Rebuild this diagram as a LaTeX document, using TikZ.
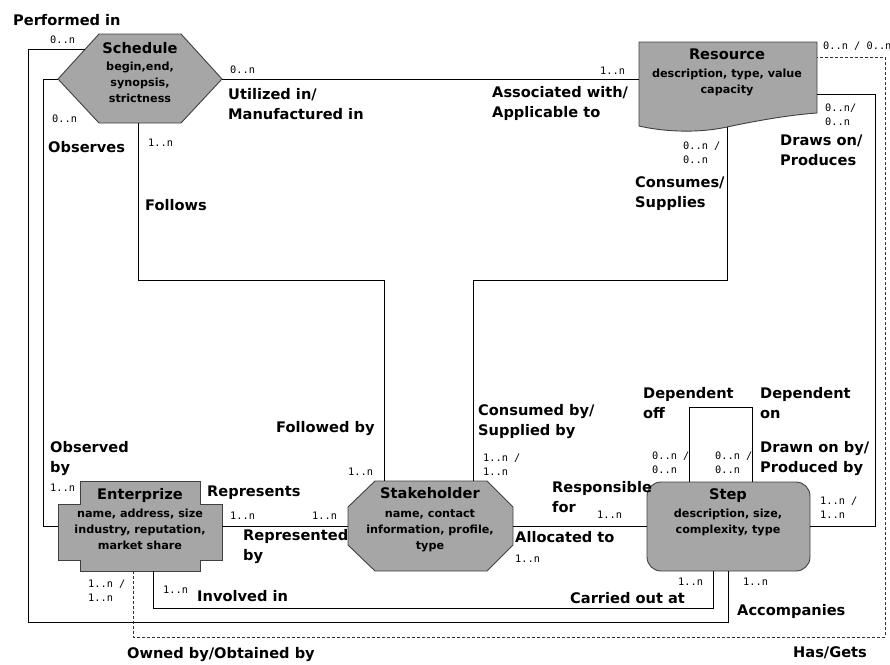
\documentclass[tikz,border=0pt]{standalone}
\usepackage{fontspec}
\setmainfont{DejaVu Sans}
\setmonofont{DejaVu Sans Mono}
\newcommand\leftlines[1]{\begin{tabular}[t]{@{}l@{}}#1\end{tabular}}
\newcommand\midlines[1]{\begin{tabular}[t]{@{}c@{}}#1\end{tabular}}
\begin{document}
\begin{tikzpicture}[x=1pt,y=-1pt,
  entity/.style={fill=gray!70, draw=black!75, line width=0.9pt},
  link/.style={draw=black, line width=0.8pt},
  optlink/.style={draw=black!80, line width=0.8pt, dash pattern=on 3pt off 2pt},
  role/.style={anchor=base west, inner sep=0pt, font=\bfseries\fontsize{14.6}{20}\selectfont},
  card/.style={anchor=base west, inner sep=0pt, font=\ttfamily\fontsize{10.3}{14}\selectfont},
  etitle/.style={anchor=base, inner sep=0pt, font=\bfseries\fontsize{14.6}{18}\selectfont},
  eattr/.style={anchor=base, inner sep=0pt, font=\bfseries\fontsize{11.2}{16}\selectfont},
]
\useasboundingbox (0,0) rectangle (890,664);

% ---------- entities ----------
% Schedule (hexagon)
\draw[entity] (58,79) -- (99,34) -- (181,34) -- (222,79) -- (181,123) -- (99,123) -- cycle;
% Resource (document shape with wavy bottom)
\draw[entity] (639,42) -- (817,42) -- (817,113)
  .. controls (790,115) and (760,120) .. (727,127)
  .. controls (695,134) and (660,131) .. (639,126) -- cycle;
% Enterprize (cross)
\draw[entity] (80,481) -- (200,481) -- (200,504) -- (222,504) -- (222,560) -- (200,560)
  -- (200,571) -- (80,571) -- (80,560) -- (58,560) -- (58,504) -- (80,504) -- cycle;
% Stakeholder (octagon)
\draw[entity] (375,481) -- (487,481) -- (513,507) -- (513,545) -- (487,571) -- (375,571)
  -- (348,545) -- (348,507) -- cycle;
% Step (rounded box)
\draw[entity, rounded corners=14pt] (647,482) rectangle (810,571);

% ---------- attachment points ----------
\coordinate (sPerf) at (85,49);
\coordinate (sObs) at (58,79);
\coordinate (sUtil) at (222,79);
\coordinate (sFol) at (138,123);
\coordinate (rAssoc) at (639,79);
\coordinate (rDraw) at (817,94);
\coordinate (rCons) at (727,127);
\coordinate (rHas) at (817,57);
\coordinate (eObs) at (58,526);
\coordinate (eRep) at (222,526);
\coordinate (eOwn) at (133,571);
\coordinate (eInv) at (153,571);
\coordinate (kRep) at (348,526);
\coordinate (kAlloc) at (513,526);
\coordinate (kFol) at (384,481);
\coordinate (kCons) at (473,481);
\coordinate (pResp) at (647,526);
\coordinate (pDraw) at (810,526);
\coordinate (pDepL) at (689,482);
\coordinate (pDepR) at (752,482);
\coordinate (pCarr) at (713,571);
\coordinate (pAcc) at (728,571);

% ---------- relationships ----------
\draw[link] (sPerf) -| (28,622) -| (pAcc);
\draw[link] (sObs) -| (43,526) -- (eObs);
\draw[link] (sUtil) -- (rAssoc);
\draw[link] (sFol) |- (384,280) -- (kFol);
\draw[link] (rCons) |- (473,280) -- (kCons);
\draw[link] (eRep) -- (kRep);
\draw[link] (kAlloc) -- (pResp);
\draw[link] (rDraw) -| (875,526) -- (pDraw);
\draw[link] (pDepL) |- (752,407) -- (pDepR);
\draw[link] (eInv) |- (713,608) -- (pCarr);
\draw[optlink] (eOwn) |- (885,637) |- (rHas);

% ---------- entity texts ----------
\node[etitle] (schT) at (140,53) {Schedule};
\node[eattr] (schA) at (140,70) {\midlines{begin,end,\\synopsis,\\strictness}};
\node[etitle] (resT) at (727,59) {Resource};
\node[eattr] (resA) at (727,77) {\midlines{description, type, value\\capacity}};
\node[etitle] (entT) at (140,499) {Enterprize};
\node[eattr] (entA) at (140,517) {\midlines{name, address, size\\industry, reputation,\\market share}};
\node[etitle] (stkT) at (430,498) {Stakeholder};
\node[eattr] (stkA) at (430,517) {\midlines{name, contact\\information, profile,\\type}};
\node[etitle] (stpT) at (728,499) {Step};
\node[eattr] (stpA) at (728,517) {\midlines{description, size,\\complexity, type}};

% ---------- role names ----------
\node[role] (lPerf) at (13,25) {Performed in};
\node[role] (lUtil) at (228,99) {\leftlines{Utilized in/\\Manufactured in}};
\node[role] (lObs) at (48,152) {Observes};
\node[role] (lFol) at (145,210) {Follows};
\node[role] (lAssoc) at (492,97) {\leftlines{Associated with/\\Applicable to}};
\node[role] (lDraw) at (780,145) {\leftlines{Draws on/\\Produces}};
\node[role] (lCons) at (635,187) {\leftlines{Consumes/\\Supplies}};
\node[role] (lFolBy) at (276,432) {Followed by};
\node[role] (lObsBy) at (50,452) {\leftlines{Observed\\by}};
\node[role] (lRep) at (207,496) {Represents};
\node[role] (lRepBy) at (243,540) {\leftlines{Represented\\by}};
\node[role] (lInv) at (197,601) {Involved in};
\node[role] (lOwn) at (127,658) {Owned by/Obtained by};
\node[role] (lConsBy) at (478,415) {\leftlines{Consumed by/\\Supplied by}};
\node[role] (lResp) at (552,492) {\leftlines{Responsible\\for}};
\node[role] (lAlloc) at (515,542) {Allocated to};
\node[role] (lDepOff) at (643,398) {\leftlines{Dependent\\off}};
\node[role] (lDepOn) at (760,398) {\leftlines{Dependent\\on}};
\node[role] (lDrawnBy) at (760,452) {\leftlines{Drawn on by/\\Produced by}};
\node[role] (lCarr) at (570,603) {Carried out at};
\node[role] (lAcc) at (737,615) {Accompanies};
\node[role] (lHas) at (793,657) {Has/Gets};

% ---------- cardinalities ----------
\node[card] (c1) at (50,43) {0..n};
\node[card] (c2) at (230,73) {0..n};
\node[card] (c3) at (52,122) {0..n};
\node[card] (c4) at (148,146) {1..n};
\node[card] (c5) at (600,74) {1..n};
\node[card] (c6) at (823,49) {0..n / 0..n};
\node[card] (c7) at (825,111) {\leftlines{0..n/\\0..n}};
\node[card] (c8) at (683,149) {\leftlines{0..n /\\0..n}};
\node[card] (c9) at (348,475) {1..n};
\node[card] (c10) at (50,491) {1..n};
\node[card] (c11) at (230,519) {1..n};
\node[card] (c12) at (312,519) {1..n};
\node[card] (c13) at (88,587) {\leftlines{1..n /\\1..n}};
\node[card] (c14) at (163,593) {1..n};
\node[card] (c15) at (483,461) {\leftlines{1..n /\\1..n}};
\node[card] (c16) at (515,562) {1..n};
\node[card] (c17) at (652,459) {\leftlines{0..n /\\0..n}};
\node[card] (c18) at (715,459) {\leftlines{0..n /\\0..n}};
\node[card] (c19) at (597,518) {1..n};
\node[card] (c20) at (820,504) {\leftlines{1..n /\\1..n}};
\node[card] (c21) at (678,585) {1..n};
\node[card] (c22) at (743,585) {1..n};
\end{tikzpicture}
\end{document}
